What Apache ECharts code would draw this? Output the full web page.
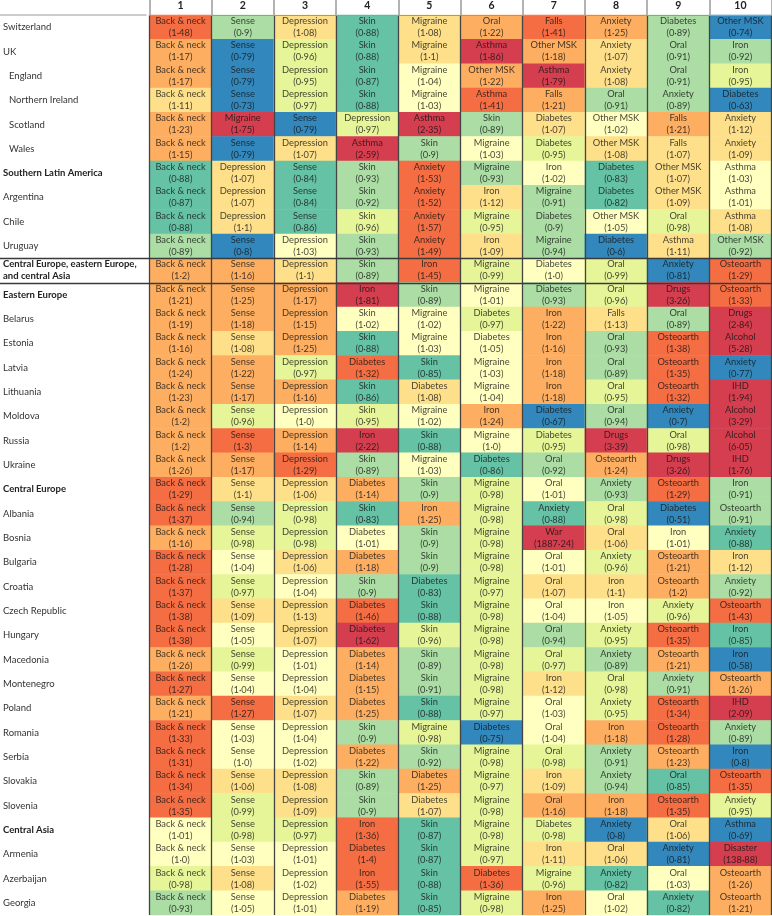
<!DOCTYPE html>
<html><head><meta charset="utf-8">
<script src="https://cdn.jsdelivr.net/npm/echarts@6.0.0/dist/echarts.min.js"></script>
<style>html,body{margin:0;padding:0;background:#fff}#c{width:772px;height:916px}</style>
</head><body><div id="c"></div>
<script>
const columns = ['1','2','3','4','5','6','7','8','9','10'];
const rows = ['Switzerland','UK','England','Northern Ireland','Scotland','Wales','Southern Latin America','Argentina','Chile','Uruguay','Central Europe, eastern Europe, and central Asia','Eastern Europe','Belarus','Estonia','Latvia','Lithuania','Moldova','Russia','Ukraine','Central Europe','Albania','Bosnia','Bulgaria','Croatia','Czech Republic','Hungary','Macedonia','Montenegro','Poland','Romania','Serbia','Slovakia','Slovenia','Central Asia','Armenia','Azerbaijan','Georgia'];
const rowLevel = ['country','country','subnational','subnational','subnational','subnational','region','country','country','country','superregion','region','country','country','country','country','country','country','country','region','country','country','country','country','country','country','country','country','country','country','country','country','country','region','country','country','country'];
const causes = [
['Back & neck','Sense','Depression','Skin','Migraine','Oral','Falls','Anxiety','Diabetes','Other MSK'],
['Back & neck','Sense','Depression','Skin','Migraine','Asthma','Other MSK','Anxiety','Oral','Iron'],
['Back & neck','Sense','Depression','Skin','Migraine','Other MSK','Asthma','Anxiety','Oral','Iron'],
['Back & neck','Sense','Depression','Skin','Migraine','Asthma','Falls','Oral','Anxiety','Diabetes'],
['Back & neck','Migraine','Sense','Depression','Asthma','Skin','Diabetes','Other MSK','Falls','Anxiety'],
['Back & neck','Sense','Depression','Asthma','Skin','Migraine','Diabetes','Other MSK','Falls','Anxiety'],
['Back & neck','Depression','Sense','Skin','Anxiety','Migraine','Iron','Diabetes','Other MSK','Asthma'],
['Back & neck','Depression','Sense','Skin','Anxiety','Iron','Migraine','Diabetes','Other MSK','Asthma'],
['Back & neck','Depression','Sense','Skin','Anxiety','Migraine','Diabetes','Other MSK','Oral','Asthma'],
['Back & neck','Sense','Depression','Skin','Anxiety','Iron','Migraine','Diabetes','Asthma','Other MSK'],
['Back & neck','Sense','Depression','Skin','Iron','Migraine','Diabetes','Oral','Anxiety','Osteoarth'],
['Back & neck','Sense','Depression','Iron','Skin','Migraine','Diabetes','Oral','Drugs','Osteoarth'],
['Back & neck','Sense','Depression','Skin','Migraine','Diabetes','Iron','Falls','Oral','Drugs'],
['Back & neck','Sense','Depression','Skin','Migraine','Diabetes','Iron','Oral','Osteoarth','Alcohol'],
['Back & neck','Sense','Depression','Diabetes','Skin','Migraine','Iron','Oral','Osteoarth','Anxiety'],
['Back & neck','Sense','Depression','Skin','Diabetes','Migraine','Iron','Oral','Osteoarth','IHD'],
['Back & neck','Sense','Depression','Skin','Migraine','Iron','Diabetes','Oral','Anxiety','Alcohol'],
['Back & neck','Sense','Depression','Iron','Skin','Migraine','Diabetes','Drugs','Oral','Alcohol'],
['Back & neck','Sense','Depression','Skin','Migraine','Diabetes','Oral','Osteoarth','Drugs','IHD'],
['Back & neck','Sense','Depression','Diabetes','Skin','Migraine','Oral','Anxiety','Osteoarth','Iron'],
['Back & neck','Sense','Depression','Skin','Iron','Migraine','Anxiety','Oral','Diabetes','Osteoarth'],
['Back & neck','Sense','Depression','Diabetes','Skin','Migraine','War','Oral','Iron','Anxiety'],
['Back & neck','Sense','Depression','Diabetes','Skin','Migraine','Oral','Anxiety','Osteoarth','Iron'],
['Back & neck','Sense','Depression','Skin','Diabetes','Migraine','Oral','Iron','Osteoarth','Anxiety'],
['Back & neck','Sense','Depression','Diabetes','Skin','Migraine','Oral','Iron','Anxiety','Osteoarth'],
['Back & neck','Sense','Depression','Diabetes','Skin','Migraine','Oral','Anxiety','Osteoarth','Iron'],
['Back & neck','Sense','Depression','Diabetes','Skin','Migraine','Oral','Anxiety','Osteoarth','Iron'],
['Back & neck','Sense','Depression','Diabetes','Skin','Migraine','Iron','Oral','Anxiety','Osteoarth'],
['Back & neck','Sense','Depression','Diabetes','Skin','Migraine','Oral','Anxiety','Osteoarth','IHD'],
['Back & neck','Sense','Depression','Skin','Migraine','Diabetes','Oral','Iron','Osteoarth','Anxiety'],
['Back & neck','Sense','Depression','Diabetes','Skin','Migraine','Oral','Anxiety','Osteoarth','Iron'],
['Back & neck','Sense','Depression','Skin','Diabetes','Migraine','Iron','Anxiety','Oral','Osteoarth'],
['Back & neck','Sense','Depression','Skin','Diabetes','Migraine','Oral','Iron','Osteoarth','Anxiety'],
['Back & neck','Sense','Depression','Iron','Skin','Migraine','Diabetes','Anxiety','Oral','Asthma'],
['Back & neck','Sense','Depression','Diabetes','Skin','Migraine','Iron','Oral','Anxiety','Disaster'],
['Back & neck','Sense','Depression','Iron','Skin','Diabetes','Migraine','Anxiety','Oral','Osteoarth'],
['Back & neck','Sense','Depression','Diabetes','Skin','Migraine','Iron','Oral','Anxiety','Osteoarth']
];
const values = [
[1.48,0.9,1.08,0.88,1.08,1.22,1.41,1.25,0.89,0.74],
[1.17,0.79,0.96,0.88,1.1,1.86,1.18,1.07,0.91,0.92],
[1.17,0.79,0.95,0.87,1.04,1.22,1.79,1.08,0.91,0.95],
[1.11,0.73,0.97,0.88,1.03,1.41,1.21,0.91,0.89,0.63],
[1.23,1.75,0.79,0.97,2.35,0.89,1.07,1.02,1.21,1.12],
[1.15,0.79,1.07,2.59,0.9,1.03,0.95,1.08,1.07,1.09],
[0.88,1.07,0.84,0.93,1.53,0.93,1.02,0.83,1.07,1.03],
[0.87,1.07,0.84,0.92,1.52,1.12,0.91,0.82,1.09,1.01],
[0.88,1.1,0.86,0.96,1.57,0.95,0.9,1.05,0.98,1.08],
[0.89,0.8,1.03,0.93,1.49,1.09,0.94,0.6,1.11,0.92],
[1.2,1.16,1.1,0.89,1.45,0.99,1.0,0.99,0.81,1.29],
[1.21,1.25,1.17,1.81,0.89,1.01,0.93,0.96,3.26,1.33],
[1.19,1.18,1.15,1.02,1.02,0.97,1.22,1.13,0.89,2.84],
[1.16,1.08,1.25,0.88,1.03,1.05,1.16,0.93,1.38,5.28],
[1.24,1.22,0.97,1.32,0.85,1.03,1.18,0.89,1.35,0.77],
[1.23,1.17,1.16,0.86,1.08,1.04,1.18,0.95,1.32,1.94],
[1.2,0.96,1.0,0.95,1.02,1.24,0.67,0.94,0.7,3.29],
[1.2,1.3,1.14,2.22,0.88,1.0,0.95,3.39,0.98,6.05],
[1.26,1.17,1.29,0.89,1.03,0.86,0.92,1.24,3.26,1.76],
[1.29,1.1,1.06,1.14,0.9,0.98,1.01,0.93,1.29,0.91],
[1.37,0.94,0.98,0.83,1.25,0.98,0.88,0.98,0.51,0.91],
[1.16,0.98,0.98,1.01,0.9,0.98,1887.24,1.06,1.01,0.88],
[1.28,1.04,1.06,1.18,0.9,0.98,1.01,0.96,1.21,1.12],
[1.37,0.97,1.04,0.9,0.83,0.97,1.07,1.1,1.2,0.92],
[1.38,1.09,1.13,1.46,0.88,0.98,1.04,1.05,0.96,1.43],
[1.38,1.05,1.07,1.62,0.96,0.98,0.94,0.95,1.35,0.85],
[1.26,0.99,1.01,1.14,0.89,0.98,0.97,0.89,1.21,0.58],
[1.27,1.04,1.04,1.15,0.91,0.98,1.12,0.98,0.91,1.26],
[1.21,1.27,1.07,1.25,0.88,0.97,1.03,0.95,1.34,2.09],
[1.33,1.03,1.04,0.9,0.98,0.75,1.04,1.18,1.28,0.89],
[1.31,1.0,1.02,1.22,0.92,0.98,0.98,0.91,1.23,0.8],
[1.34,1.06,1.08,0.89,1.25,0.97,1.09,0.94,0.85,1.35],
[1.35,0.99,1.09,0.9,1.07,0.98,1.16,1.18,1.35,0.95],
[1.01,0.98,0.97,1.36,0.87,0.98,0.98,0.8,1.06,0.69],
[1.0,1.03,1.01,1.4,0.87,0.97,1.11,1.06,0.81,138.88],
[0.98,1.08,1.02,1.55,0.88,1.36,0.96,0.82,1.03,1.26],
[0.93,1.05,1.01,1.19,0.85,0.98,1.25,1.02,0.82,1.21]
];
// ratio bins (observed to expected)
const binEdges = [0.815,0.885,0.945,0.995,1.055,1.135,1.265,1.6];
const binColors = ['#3288bd','#66c2a5','#abdda4','#e6f598','#ffffbf','#fee08b','#fdae61','#f46d43','#d53e4f'];

const FONT = 'Lato, "Open Sans", sans-serif';
function fmt(v){ let s = String(v); if(s.indexOf('.')<0) s += '.0'; return s.replace('.', '\u00b7'); }

const data = [];
rows.forEach((r, ri) => {
  for (let c = 0; c < columns.length; c++) {
    data.push({ value: [c, ri, values[ri][c]], name: causes[ri][c] });
  }
});
const pieces = [];
for (let i = 0; i < binColors.length; i++) {
  const p = { color: binColors[i] };
  if (i > 0) p.gte = binEdges[i-1];
  if (i < binEdges.length) p.lt = binEdges[i];
  pieces.push(p);
}

const chart = echarts.init(document.getElementById('c'), null, { renderer: 'canvas' });
const gridTop = 15, gridLeft = 146.5;
chart.setOption({
  animation: false,
  backgroundColor: '#fff',
  grid: { left: gridLeft, right: 0.5, top: gridTop, bottom: 1 },
  xAxis: {
    type: 'category', position: 'top', data: columns, z: 5,
    axisLine: { show: true, lineStyle: { color: '#9a9a9a', width: 1 } },
    axisTick: { show: true, length: 15, alignWithLabel: false, lineStyle: { color: '#9a9a9a', width: 1.5 } },
    axisLabel: { margin: 4, fontSize: 10.5, fontWeight: 'bold', color: '#222', fontFamily: FONT },
    splitLine: { show: true, lineStyle: { color: '#444', width: 1.3 } }
  },
  yAxis: {
    type: 'category', inverse: true, data: rows,
    axisLine: { show: false }, axisTick: { show: false }, splitLine: { show: false },
    axisLabel: {
      align: 'left', margin: gridLeft, fontSize: 9.5, color: '#333', fontFamily: FONT,
      formatter: function (v, i) {
        const lv = rowLevel[i];
        if (lv === 'superregion') return '{b|Central Europe, eastern Europe,}\n{b|and central Asia}';
        if (lv === 'region') return '{b|' + v + '}';
        if (lv === 'subnational') return '{i|' + v + '}';
        return '{n|' + v + '}';
      },
      rich: {
        b: { fontWeight: 'bold', fontSize: 9.5, color: '#222', fontFamily: FONT, lineHeight: 12 },
        i: { fontSize: 9.5, color: '#333', fontFamily: FONT, padding: [0, 0, 0, 6] },
        n: { fontSize: 9.5, color: '#333', fontFamily: FONT }
      }
    }
  },
  visualMap: { type: 'piecewise', show: false, dimension: 2, seriesIndex: 0, pieces: pieces },
  series: [{
    type: 'heatmap', data: data,
    emphasis: { disabled: true },
    label: {
      show: true, fontSize: 9.3, lineHeight: 12, fontFamily: FONT, color: 'rgba(20,20,20,0.8)',
      formatter: p => p.name + '\n(' + fmt(p.value[2]) + ')'
    }
  }]
});

// separator lines derived from the axis scale
const yA = chart.convertToPixel({ yAxisIndex: 0 }, rows[0]);
const yB = chart.convertToPixel({ yAxisIndex: 0 }, rows[1]);
const band = yB - yA;
function boundaryAbove(idx){ return chart.convertToPixel({ yAxisIndex: 0 }, rows[idx]) - band / 2; }
const W = chart.getWidth();
const gs = [
  { type: 'line', z: 10, shape: { x1: 0, y1: gridTop, x2: gridLeft, y2: gridTop }, style: { stroke: '#9a9a9a', lineWidth: 1 } }
];
[10, 11].forEach(k => {
  const y = Math.round(boundaryAbove(k)) + 0.5;
  gs.push({ type: 'line', z: 10, shape: { x1: 0, y1: y, x2: W, y2: y }, style: { stroke: '#3a3a3a', lineWidth: 1.5 } });
});
chart.setOption({ graphic: gs });
</script>
</body></html>
